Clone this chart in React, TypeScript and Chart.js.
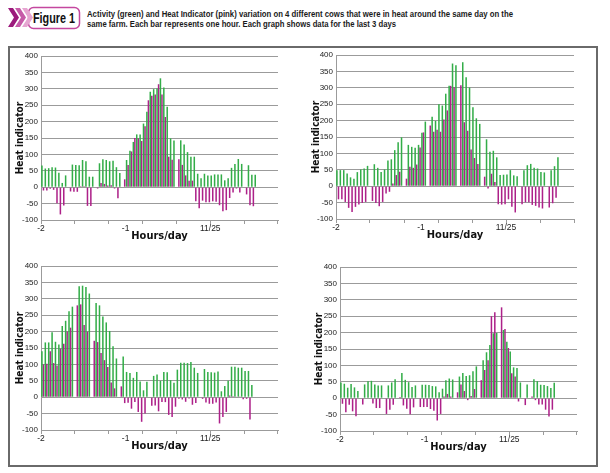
import React, { useEffect, useRef } from 'react';
import { Chart, registerables } from 'chart.js';

Chart.register(...registerables);

// ---- categories / ticks ----
const SLOT_COUNT = 70;
const hourSlots: string[] = Array.from({ length: SLOT_COUNT }, (_, i) => String(i));
const xTickLabels = ['-2', '-1', '11/25'];
const xTickSlots = [0, 25, 50];
const yMin = -100;
const yMax = 400;
const yStep = 50;

// ---- cow 1 (top left) ----
const cow1Activity = [66,57,58,61,60,44,13,36,null,69,68,67,83,79,32,32,null,73,85,83,79,81,61,43,null,83,111,138,161,161,194,230,291,299,301,332,304,245,149,142,null,143,130,107,93,93,41,27,41,36,36,39,39,39,21,27,59,71,86,71,null,67,38,38];
const cow1Heat = [-10,-10,-5,-8,-49,-83,-56,null,-13,-14,-14,3,3,-57,-57,null,-4,13,10,5,6,-4,-34,null,24,68,109,150,149,141,186,265,279,283,314,283,214,93,84,null,85,68,36,20,20,-43,-64,-41,-46,-46,-43,-44,-55,-73,-70,-33,-16,-4,-16,null,-22,-55,-58,null];

// ---- cow 2 (top right) ----
const cow2Activity = [49,49,49,39,27,23,43,51,54,62,null,67,56,43,51,78,82,110,134,149,null,126,120,117,126,163,197,null,212,199,250,246,282,306,374,369,null,378,332,301,241,207,190,null,143,105,108,88,34,35,36,49,33,30,null,49,64,68,56,54,43,42,null,49,61,88];
const cow2Heat = [-40,-40,-48,-66,-79,-63,-56,-51,-48,null,-45,-51,-61,-48,-22,-17,8,34,44,null,23,59,56,66,118,164,null,185,166,172,166,203,231,306,302,null,308,195,169,112,86,68,null,29,-7,38,13,-55,-56,-55,-40,-63,-80,null,-55,-49,-49,-57,-60,-65,-68,null,-65,-52,-35,null];

// ---- cow 3 (bottom left) ----
const cow3Activity = [140,167,167,198,169,161,217,233,262,276,null,338,340,336,316,null,287,280,246,228,202,155,118,null,124,77,74,59,77,48,21,47,null,65,69,50,77,76,52,44,84,105,105,104,107,90,74,null,86,77,76,75,78,18,34,50,93,93,90,90,80,80,37];
const cow3Heat = [100,102,140,104,97,148,163,200,212,null,280,283,220,200,null,172,168,135,113,92,45,27,null,33,-18,-17,-35,-15,-45,-75,-50,null,-26,-25,-43,-15,-15,-54,-60,-29,-5,-7,-14,-4,-23,-18,null,-5,-16,-20,-20,-16,-80,-60,-45,5,3,2,2,-6,-5,-68,null];

// ---- cow 4 (bottom right) ----
const cow4Activity = [48,44,32,43,33,22,null,42,52,53,42,39,39,null,39,48,58,null,77,56,49,34,39,null,41,41,40,37,36,18,29,55,60,57,null,66,77,68,70,82,97,null,116,140,162,198,199,null,208,172,142,94,92,48,null,42,null,58,52,41,40,37,31,47];
const cow4Heat = [-17,-43,-20,-40,-55,null,-19,null,null,-16,-30,-30,null,-48,-35,-20,null,4,-22,-32,-49,-28,null,-27,-27,-27,-33,-38,-68,-48,5,13,5,null,18,42,22,-6,7,28,null,55,86,116,250,262,null,277,211,153,76,66,-10,null,-21,null,5,-6,-19,-19,-35,-56,-35,null];

const GREEN = '#33ad48';
const PINK = '#ad2189';
const GRID = '#9b9b9b';
const TITLE_FONT = "'Liberation Sans Narrow', 'Arial Narrow', 'DejaVu Sans Condensed', 'Liberation Sans', Arial, sans-serif";
const TICK_FONT = "'Liberation Sans', Arial, sans-serif";

type Val = number | null;
type PanelProps = {
  activity: Val[];
  heat: Val[];
  left: number;
  top: number;
  yAxisWidth: number;
};

const CANVAS_W = 282;
const CANVAS_H = 200;

function Panel({ activity, heat, left, top, yAxisWidth }: PanelProps) {
  const ref = useRef<HTMLCanvasElement>(null);
  useEffect(() => {
    const chart = new Chart(ref.current as HTMLCanvasElement, {
      type: 'bar',
      data: {
        labels: hourSlots,
        datasets: [
          {
            label: 'Activity',
            data: activity as any,
            backgroundColor: GREEN,
            categoryPercentage: 0.9,
            barPercentage: 1.0,
          },
          {
            label: 'Heat indicator',
            data: heat as any,
            backgroundColor: PINK,
            categoryPercentage: 0.9,
            barPercentage: 1.0,
          },
        ],
      },
      options: {
        responsive: false,
        maintainAspectRatio: false,
        animation: false,
        layout: { padding: { top: 10, right: 14, bottom: 0, left: 0 } },
        plugins: { legend: { display: false }, tooltip: { enabled: false } },
        scales: {
          x: {
            type: 'category',
            offset: true,
            grid: {
              offset: true,
              drawOnChartArea: false,
              drawTicks: true,
              tickLength: 4,
              color: (ctx: any) =>
                ctx.index === undefined || ctx.index % 10 === 0 ? GRID : 'rgba(0,0,0,0)',
            },
            border: { display: true, color: GRID },
            ticks: {
              autoSkip: false,
              maxRotation: 0,
              minRotation: 0,
              padding: 0,
              labelOffset: -1.7,
              color: '#222',
              font: { family: TICK_FONT, size: 8.5 },
              callback: (_v: any, i: number) => {
                const k = xTickSlots.indexOf(i);
                return k >= 0 ? xTickLabels[k] : '';
              },
            },
            title: {
              display: true,
              text: 'Hours/day',
              color: '#111',
              font: { family: TITLE_FONT, size: 11, weight: 'bold' },
              padding: { top: 0, bottom: 3 },
            },
            afterFit: (s: any) => {
              s.height = 26;
            },
          },
          y: {
            min: yMin,
            max: yMax,
            grid: { color: GRID, drawTicks: false, lineWidth: 1 },
            border: { display: true, color: GRID },
            ticks: {
              stepSize: yStep,
              padding: 3,
              color: '#222',
              font: { family: TICK_FONT, size: 8 },
            },
            title: {
              display: true,
              text: 'Heat indicator',
              color: '#111',
              font: { family: TITLE_FONT, size: 10, weight: 'bold' },
              padding: { top: 4, bottom: 0 },
            },
            afterFit: (s: any) => {
              s.width = yAxisWidth;
            },
          },
        },
      } as any,
    });
    return () => chart.destroy();
  }, [activity, heat, yAxisWidth]);
  return (
    <canvas
      ref={ref}
      width={CANVAS_W}
      height={CANVAS_H}
      style={{ position: 'absolute', left, top, width: CANVAS_W, height: CANVAS_H }}
    />
  );
}

function Header() {
  const chevron = (ox: number) =>
    `${ox},8 ${ox + 5},8 ${ox + 11},17.5 ${ox + 5},27 ${ox},27 ${ox + 6},17.5`;
  return (
    <svg width={610} height={46} style={{ position: 'absolute', left: 0, top: 0 }}>
      <rect x={28.5} y={7.5} width={51} height={21} rx={5} fill="#fff" stroke="#c4479f" strokeWidth={1.5} />
      <polygon points={chevron(8)} fill="#9c1a7c" />
      <polygon points={chevron(15)} fill="#c65aa8" />
      <polygon points={chevron(22)} fill="#e6a5d1" />
      <text
        x={33}
        y={22.5}
        fontFamily="'Liberation Sans', Arial, sans-serif"
        fontWeight="bold"
        fontSize={14}
        fill="#111"
        textLength={42}
        lengthAdjust="spacingAndGlyphs"
      >
        Figure 1
      </text>
      <text
        x={87}
        y={16.5}
        fontFamily="'Liberation Sans', Arial, sans-serif"
        fontWeight="bold"
        fontSize={9.5}
        fill="#1a1a1a"
        textLength={426}
        lengthAdjust="spacingAndGlyphs"
      >
        Activity (green) and Heat Indicator (pink) variation on 4 different cows that were in heat around the same day on the
      </text>
      <text
        x={87}
        y={26.5}
        fontFamily="'Liberation Sans', Arial, sans-serif"
        fontWeight="bold"
        fontSize={9.5}
        fill="#1a1a1a"
        textLength={309}
        lengthAdjust="spacingAndGlyphs"
      >
        same farm. Each bar represents one hour. Each graph shows data for the last 3 days
      </text>
    </svg>
  );
}

export default function App() {
  return (
    <div
      style={{
        position: 'absolute',
        left: 0,
        top: 0,
        width: 610,
        height: 473,
        background: '#fff',
        overflow: 'hidden',
      }}
    >
      <Header />
      <div
        style={{
          position: 'absolute',
          left: 8,
          top: 46,
          width: 590,
          height: 421,
          border: '2px solid #6a6a6a',
          boxSizing: 'border-box',
        }}
      />
      <Panel activity={cow1Activity} heat={cow1Heat} left={10} top={46} yAxisWidth={31} />
      <Panel activity={cow2Activity} heat={cow2Heat} left={306} top={45} yAxisWidth={30} />
      <Panel activity={cow3Activity} heat={cow3Heat} left={10} top={256} yAxisWidth={31} />
      <Panel activity={cow4Activity} heat={cow4Heat} left={309} top={257} yAxisWidth={31} />
    </div>
  );
}
